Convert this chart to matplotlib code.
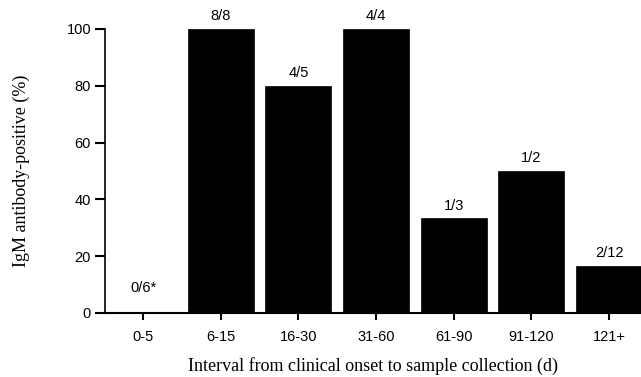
import matplotlib
matplotlib.use("Agg")
import matplotlib.pyplot as plt

categories = ["0-5", "6-15", "16-30", "31-60", "61-90", "91-120", "121+"]
values = [0, 100, 80, 100, 33.3, 50, 16.7]
bar_labels = ["0/6*", "8/8", "4/5", "4/4", "1/3", "1/2", "2/12"]
yticks = [0, 20, 40, 60, 80, 100]

fig = plt.figure(figsize=(6.41, 3.77), dpi=100)
ax = fig.add_axes([105/641, 64/377, 1 - 105/641, 284/377])

x = list(range(len(categories)))
ax.bar(x, values, width=0.85, color="black", edgecolor="black", linewidth=0.5)

sans = ["Liberation Sans", "DejaVu Sans"]
serif = ["Liberation Serif", "DejaVu Serif"]

for xi, v, lab in zip(x, values, bar_labels):
    off = 13 if v == 0 else 4
    ax.annotate(lab, (xi, v), xytext=(0, off), textcoords="offset points",
                ha="center", va="bottom", fontsize=10.5, family=sans,
                annotation_clip=False)

ax.set_xlim(-0.49, 6.41)
ax.set_ylim(0, 100)
ax.set_xticks(x)
ax.set_xticklabels(categories, fontsize=10.5, family=sans)
ax.set_yticks(yticks)
ax.set_yticklabels([str(t) for t in yticks], fontsize=10.5, family=sans)
ax.tick_params(axis="y", length=7, width=1.5, pad=3)
ax.tick_params(axis="x", length=5, width=1.5, pad=7)

for s in ["top", "right"]:
    ax.spines[s].set_visible(False)
ax.spines["left"].set_linewidth(1.2)
ax.spines["bottom"].set_linewidth(1.5)

ax.set_xlabel("Interval from clinical onset to sample collection (d)",
              fontsize=13, family=serif, labelpad=10)
ax.set_ylabel("IgM antibody-positive (%)", fontsize=13, family=serif, labelpad=26)

fig.savefig("out.png", dpi=100)
